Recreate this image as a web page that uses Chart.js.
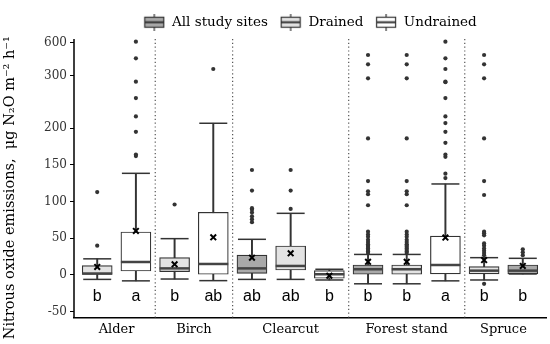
<!DOCTYPE html>
<html lang="en">
<head>
<meta charset="UTF-8">
<title>Nitrous oxide emissions</title>
<script src="https://cdn.jsdelivr.net/npm/chart.js"></script>
<style>
body { margin:0; background:#fff; }
</style>
</head>
<body>
<canvas id="myChart" width="550" height="344"></canvas>
<script>
// groups on the x axis and where their label sits (box slots 0..11)
const groups = ['Alder', 'Birch', 'Clearcut', 'Forest stand', 'Spruce'];
const groupCenters = [0.5, 2.5, 5, 8, 10.5];
const separators = [1.5, 3.5, 6.5, 9.5];

const legendNames = ['All study sites', 'Drained', 'Undrained'];
const boxType = ['Drained', 'Undrained', 'Drained', 'Undrained',
  'All study sites', 'Drained', 'Undrained',
  'All study sites', 'Drained', 'Undrained',
  'Drained', 'All study sites'];

// box statistics, µg N2O m-2 h-1
const whiskLo = [-6, -8, -5.5, -7.7, -6, -6, -6.8, -12, -12, -8, -6.8, 1.4];
const q1 = [0, 5.4, 4.5, 1, 2.3, 6.8, -4.5, 1, 1, 1.4, 1.4, 1.4];
const median = [2, 17.7, 9, 15, 9, 12.3, 1, 7.8, 7.8, 13.6, 5.9, 5.9];
const q3 = [12.7, 58.6, 23.6, 85.4, 27.2, 39.5, 5.9, 13.6, 13.6, 53, 11.3, 13.6];
const whiskHi = [22, 138.5, 49.5, 206.7, 48.6, 84, 7.8, 28, 28, 124, 23.6, 22.7];
const means = [11, 60, 14.6, 51.3, 23.6, 29.5, -1, 18, 18, 51, 20.4, 12.3];
const outliers = [
  [40, 113],
  [162, 164, 195, 216, 241, 249, 459, 609],
  [96],
  [363],
  [72, 76, 80, 85, 89, 91, 115, 143],
  [90, 115, 143],
  [],
  [30, 32, 34, 36, 38, 40, 42, 45, 48, 52, 55, 59, 95, 110, 114, 128, 186, 279, 405, 489],
  [30, 32, 34, 36, 38, 40, 42, 45, 48, 52, 55, 59, 95, 110, 114, 128, 186, 279, 405, 489],
  [132, 138, 161, 164, 180, 195, 207, 216, 241, 244, 250, 363, 459, 609],
  [-12, 27, 30, 33, 36, 40, 43, 54, 57, 59, 109, 128, 186, 279, 405, 489],
  [27, 31, 35]
];
const letters = ['b', 'a', 'b', 'ab', 'ab', 'ab', 'b', 'b', 'b', 'a', 'b', 'b'];

const yTicks = [-50, 0, 50, 100, 150, 200, 300, 600];

// broken y axis: linear up to the break, compressed above it
const BREAK = 242;
function tv(v) {
  return v <= BREAK ? v : 271.1 + (v - 300) * 0.1514;
}
const lowerTop = 248;       // end of the lower axis segment
const upperBottom = tv(219.5); // start of the upper one

const fills = { 'All study sites': '#a9a9a9', 'Drained': '#e3e3e3', 'Undrained': '#ffffff' };
const serif = 'DejaVu Serif';
const slots = boxType.map((t, i) => i);

function makeIcon(fill) {
  const c = document.createElement('canvas');
  c.width = 22; c.height = 17;
  const g = c.getContext('2d');
  g.strokeStyle = '#333';
  g.lineWidth = 1.2;
  g.beginPath();
  g.moveTo(11, 0); g.lineTo(11, 3.5);
  g.moveTo(11, 13.5); g.lineTo(11, 17);
  g.stroke();
  g.fillStyle = fill;
  g.fillRect(1.5, 3.5, 19, 10);
  g.strokeRect(1.5, 3.5, 19, 10);
  g.lineWidth = 2;
  g.beginPath(); g.moveTo(1.5, 8.5); g.lineTo(20.5, 8.5); g.stroke();
  return c;
}
const icons = legendNames.map(n => makeIcon(fills[n]));

const boxSets = legendNames.map(name => ({
  type: 'bar',
  label: name,
  data: slots.filter(i => boxType[i] === name).map(i => ({ x: i, y: [tv(q1[i]), tv(q3[i])] })),
  backgroundColor: fills[name],
  borderColor: '#333',
  borderWidth: 1.2,
  borderSkipped: false,
  barThickness: 30,
  grouped: false
}));

const outlierData = [];
outliers.forEach((arr, i) => arr.forEach(v => outlierData.push({ x: i, y: tv(v) })));

const extras = {
  id: 'extras',
  beforeDatasetsDraw(chart) {
    const { ctx, chartArea: a, scales: { x } } = chart;
    ctx.save();
    ctx.strokeStyle = '#555';
    ctx.lineWidth = 1.2;
    ctx.setLineDash([1.2, 2.6]);
    separators.forEach(s => {
      const px = x.getPixelForValue(s);
      ctx.beginPath();
      ctx.moveTo(px, a.top);
      ctx.lineTo(px, a.bottom);
      ctx.stroke();
    });
    ctx.restore();
  },
  afterDatasetsDraw(chart) {
    const { ctx, scales: { x, y } } = chart;
    ctx.save();
    ctx.fillStyle = '#000';
    ctx.font = '16px "Liberation Sans"';
    ctx.textAlign = 'center';
    ctx.textBaseline = 'middle';
    letters.forEach((l, i) => ctx.fillText(l, x.getPixelForValue(i), y.getPixelForValue(-30)));
    ctx.restore();
  },
  afterDraw(chart) {
    const { ctx, chartArea: a, scales: { y } } = chart;
    ctx.save();
    ctx.strokeStyle = '#000';
    ctx.lineWidth = 1.5;
    ctx.beginPath();
    ctx.moveTo(a.left, a.bottom);
    ctx.lineTo(a.left, y.getPixelForValue(lowerTop));
    ctx.moveTo(a.left, y.getPixelForValue(upperBottom));
    ctx.lineTo(a.left, a.top);
    ctx.stroke();
    ctx.restore();
  }
};

new Chart(document.getElementById('myChart'), {
  type: 'bar',
  data: {
    datasets: [
      {
        type: 'scatter', label: 'mean',
        data: slots.map(i => ({ x: i, y: tv(means[i]) })),
        pointStyle: 'crossRot', pointRadius: 4, borderWidth: 2,
        borderColor: '#000', backgroundColor: '#000'
      },
      {
        type: 'scatter', label: 'median',
        data: slots.map(i => ({ x: i, y: tv(median[i]) })),
        pointStyle: 'line', pointRadius: 15, borderWidth: 2.5, borderColor: '#444'
      },
      {
        type: 'scatter', label: 'caps',
        data: slots.map(i => ({ x: i, y: tv(whiskLo[i]) })).concat(slots.map(i => ({ x: i, y: tv(whiskHi[i]) }))),
        pointStyle: 'line', pointRadius: 14, borderWidth: 1.5, borderColor: '#333'
      },
      {
        type: 'scatter', label: 'outliers',
        data: outlierData,
        pointRadius: 2.1, borderWidth: 0, backgroundColor: '#333'
      },
      ...boxSets,
      {
        type: 'bar', label: 'stems',
        data: slots.map(i => ({ x: i, y: [tv(whiskLo[i]), tv(whiskHi[i])] })),
        backgroundColor: '#333', borderWidth: 0, barThickness: 1.3, grouped: false
      }
    ]
  },
  options: {
    responsive: false,
    animation: false,
    layout: { autoPadding: false, padding: { top: 1, right: 4, left: 0, bottom: 0 } },
    plugins: {
      tooltip: { enabled: false },
      legend: {
        position: 'top',
        fullSize: false,
        onClick: () => {},
        labels: {
          usePointStyle: true,
          pointStyleWidth: 22,
          padding: 11.75,
          color: '#000',
          font: { family: serif, size: 13.5 },
          generateLabels: () => legendNames.map((n, i) => ({
            text: n, pointStyle: icons[i], fillStyle: fills[n], strokeStyle: '#333', lineWidth: 0, hidden: false
          }))
        }
      }
    },
    scales: {
      x: {
        type: 'linear',
        offset: false,
        min: -0.6,
        max: 11.6,
        afterBuildTicks: s => { s.ticks = groupCenters.map(v => ({ value: v })); },
        afterFit: s => { s.height = 26; s.paddingLeft = 0; s.paddingRight = 0; },
        ticks: {
          callback: (v, i) => groups[i],
          autoSkip: false, maxRotation: 0, padding: 4,
          color: '#000', font: { family: serif, size: 13 }
        },
        grid: { display: false, drawTicks: false },
        border: { display: true, color: '#000', width: 1.5 }
      },
      y: {
        type: 'linear',
        min: -58.6,
        max: 321.5,
        afterBuildTicks: s => { s.ticks = yTicks.map(v => ({ value: tv(v) })); },
        afterFit: s => { s.width = 74; s.paddingTop = 39; },
        ticks: {
          callback: (v, i) => String(yTicks[i]),
          autoSkip: false, padding: 3,
          color: '#333', font: { family: serif, size: 12 }
        },
        grid: { drawOnChartArea: false, drawTicks: true, tickLength: 4, color: '#000', lineWidth: 1 },
        border: { display: false },
        title: {
          display: true,
          text: 'Nitrous oxide emissions,  μg N₂O m⁻² h⁻¹    ',
          color: '#000',
          font: { family: serif, size: 14.5 },
          padding: { top: 2, bottom: 2 }
        }
      }
    }
  },
  plugins: [extras]
});
</script>
</body>
</html>
